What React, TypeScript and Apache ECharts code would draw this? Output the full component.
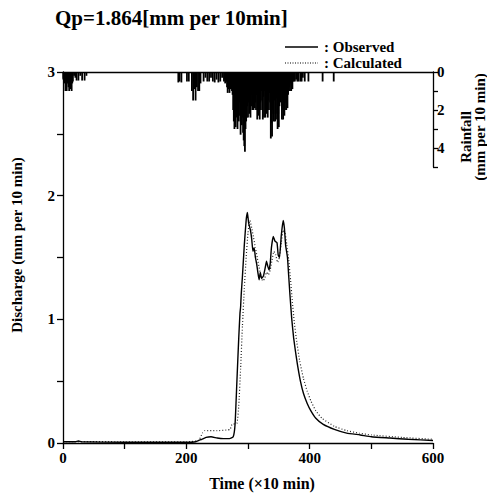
import React, { useEffect, useRef } from "react";
import * as echarts from "echarts";

const titleText = "Qp=1.864[mm per 10min]";
const xTicks = [0, 100, 200, 300, 400, 500, 600];
const yTicks = [0, 0.5, 1, 1.5, 2, 2.5, 3];
const rainTicks = [0, 1, 2, 3, 4, 5];
const legendNames = ["Observed", "Calculated"];

// Observed discharge [time step (x10 min), mm per 10 min]
const observed: [number, number][] = [
  [0, 0.01], [20, 0.01], [25, 0.016], [30, 0.01], [100, 0.006], [200, 0.006],
  [215, 0.01], [225, 0.03], [232, 0.045], [240, 0.05], [250, 0.04], [260, 0.035],
  [270, 0.035], [276, 0.05], [279, 0.15], [282, 0.5], [285, 0.85], [287, 1.05],
  [288, 1.1], [289, 1.2], [291, 1.35], [294, 1.6], [297, 1.8], [299, 1.864],
  [301, 1.78], [304, 1.72], [306, 1.65], [308, 1.55], [310, 1.58], [312, 1.5],
  [314, 1.45], [316, 1.38], [318, 1.32], [320, 1.38], [322, 1.33], [325, 1.35],
  [328, 1.42], [330, 1.47], [332, 1.43], [334, 1.4], [336, 1.45], [338, 1.58],
  [341, 1.67], [344, 1.63], [347, 1.62], [349, 1.52], [351, 1.5], [354, 1.68],
  [357, 1.8], [359, 1.74], [361, 1.6], [364, 1.5], [366, 1.35], [368, 1.2],
  [371, 1.0], [374, 0.85], [377, 0.74], [380, 0.64], [385, 0.5], [390, 0.4],
  [396, 0.32], [402, 0.26], [410, 0.2], [422, 0.15], [440, 0.11], [460, 0.08],
  [482, 0.065], [500, 0.05], [530, 0.04], [560, 0.03], [600, 0.02],
];

// Calculated discharge
const calculated: [number, number][] = [
  [0, 0.012], [100, 0.01], [200, 0.01], [220, 0.02], [226, 0.08], [230, 0.1],
  [250, 0.1], [265, 0.105], [271, 0.11], [274, 0.15], [282, 0.16], [285, 0.3],
  [288, 0.6], [291, 0.95], [294, 1.25], [297, 1.5], [300, 1.7], [303, 1.8],
  [306, 1.74], [309, 1.66], [312, 1.58], [315, 1.5], [318, 1.42], [321, 1.35],
  [324, 1.31], [327, 1.33], [330, 1.38], [333, 1.36], [336, 1.4], [339, 1.48],
  [342, 1.55], [345, 1.52], [348, 1.46], [351, 1.5], [354, 1.62], [357, 1.72],
  [360, 1.7], [363, 1.6], [366, 1.48], [369, 1.32], [372, 1.14], [375, 0.98],
  [379, 0.82], [384, 0.66], [390, 0.52], [396, 0.42], [402, 0.34], [410, 0.26],
  [420, 0.2], [440, 0.135], [460, 0.1], [480, 0.08], [500, 0.065], [550, 0.045],
  [600, 0.03],
];

// Rainfall [time step, mm per 10 min]
const rainfall: [number, number][] = [
  [0, 0.4], [1, 0.3], [2, 0.4], [3, 0.6], [4, 1.0], [5, 0.9], [6, 1.0], [7, 0.5], [8, 0.6],
  [9, 0.8], [10, 1.0], [11, 0.6], [12, 0.9], [13, 0.5], [14, 1.0], [15, 0.6], [16, 0.5],
  [18, 0.2], [20, 0.3], [22, 0.45], [25, 0.45], [28, 0.2], [31, 0.45],
  [35, 0.45], [38, 0.2],
  [187, 0.55], [189, 0.5], [192, 0.55], [201, 0.5], [204, 0.5],
  [209, 1.0], [211, 1.5], [213, 0.9], [215, 1.5], [217, 0.8], [219, 1.0], [221, 1.0],
  [223, 0.6], [228, 0.5], [231, 0.3], [234, 0.5], [237, 0.5], [240, 0.3], [243, 0.5],
  [246, 0.55], [249, 0.4], [252, 0.55], [255, 0.5], [258, 0.3],
  [261, 0.5], [262, 0.4], [263, 0.6], [264, 0.5], [265, 0.5], [266, 0.8], [267, 1.1],
  [268, 0.9], [269, 0.8], [270, 1.1], [271, 0.9], [272, 0.7], [273, 0.9],
  [274, 1.0], [275, 1.2], [276, 2.0], [277, 2.6], [278, 3.0], [279, 2.5], [280, 2.9],
  [281, 1.8], [282, 2.4], [283, 3.0], [284, 2.0], [285, 2.6], [286, 1.6], [287, 2.3],
  [288, 3.3], [289, 2.0], [290, 2.8], [291, 2.4], [292, 3.2], [293, 3.6], [294, 3.9],
  [295, 4.2], [296, 3.0], [297, 2.6], [298, 2.4], [299, 1.8], [300, 2.4], [301, 1.6],
  [302, 2.2], [303, 1.5], [304, 2.4], [305, 1.8], [306, 1.2], [307, 2.0], [308, 1.4],
  [309, 2.0], [310, 1.1], [311, 1.9], [312, 1.6], [313, 2.0], [314, 1.2], [315, 2.5],
  [316, 1.7], [317, 2.3], [318, 1.4], [319, 2.5], [320, 1.6], [321, 2.0], [322, 1.0],
  [323, 1.5], [324, 2.5], [325, 1.3], [326, 2.4], [327, 1.0], [328, 2.4], [329, 1.8],
  [330, 2.2], [331, 1.2], [332, 2.4], [333, 1.5], [334, 2.0], [335, 1.1], [336, 1.6],
  [337, 3.5], [338, 2.7], [339, 3.4], [340, 2.0], [341, 2.2], [342, 2.6], [343, 1.5],
  [344, 2.6], [345, 2.2], [346, 1.4], [347, 2.5], [348, 3.0], [349, 2.2], [350, 2.9],
  [351, 1.8], [352, 1.2], [353, 1.6], [354, 1.0], [355, 2.5], [356, 2.0], [357, 2.5],
  [358, 1.8], [359, 2.3], [360, 2.0], [361, 1.6], [362, 2.0], [363, 1.3], [364, 1.9],
  [365, 1.2], [366, 1.0], [367, 0.8], [368, 1.0], [369, 0.6], [370, 1.0], [371, 0.7],
  [372, 0.9], [373, 0.5], [374, 0.5], [376, 0.5], [378, 0.4], [380, 0.5], [382, 0.5],
  [385, 0.5], [387, 0.5], [389, 0.3], [392, 0.5], [398, 0.5], [421, 0.5], [439, 0.5],
];

const FONT = "'Liberation Serif', 'Times New Roman', serif";

export default function App() {
  const ref = useRef<HTMLDivElement>(null);
  useEffect(() => {
    if (!ref.current) return;
    const chart = echarts.init(ref.current, null, { renderer: "svg" });
    const labelStyle = {
      color: "#000",
      fontFamily: FONT,
      fontWeight: "bold" as const,
      fontSize: 15,
    };
    const axisLine = { show: true, onZero: false, lineStyle: { color: "#000", width: 1.3 } };
    const legendGraphics: any[] = [];
    legendNames.forEach((name, i) => {
      const y = 47 + i * 16;
      legendGraphics.push({
        type: "line",
        shape: { x1: 285, y1: y, x2: 318, y2: y },
        style: {
          stroke: "#000",
          lineWidth: i === 0 ? 1.4 : 1.1,
          lineDash: i === 0 ? null : [1, 1.5],
        },
      });
      legendGraphics.push({
        type: "text",
        x: 324,
        y,
        style: {
          text: ": " + name,
          font: `bold 15px ${FONT}`,
          fill: "#000",
          verticalAlign: "middle",
        },
      });
    });
    chart.setOption({
      animation: false,
      backgroundColor: "#fff",
      grid: [
        { left: 63, right: 54, top: 72, bottom: 52 },
        { left: 63, right: 54, top: 72, height: 95 },
      ],
      xAxis: [
        {
          gridIndex: 0,
          type: "value",
          min: xTicks[0],
          max: xTicks[xTicks.length - 1],
          interval: 100,
          axisLine,
          axisTick: { show: true, length: 6, lineStyle: { color: "#000", width: 1.3 } },
          axisLabel: {
            ...labelStyle,
            margin: 7,
            formatter: (v: number) => (v % 200 === 0 ? String(v) : ""),
          },
          splitLine: { show: false },
        },
        {
          gridIndex: 1,
          type: "value",
          position: "top",
          min: 0,
          max: 600,
          interval: 100,
          axisLine,
          axisTick: { show: false },
          axisLabel: { show: false },
          splitLine: { show: false },
        },
      ],
      yAxis: [
        {
          gridIndex: 0,
          type: "value",
          min: yTicks[0],
          max: yTicks[yTicks.length - 1],
          interval: 0.5,
          axisLine,
          axisTick: { show: true, length: 6, lineStyle: { color: "#000", width: 1.3 } },
          axisLabel: {
            ...labelStyle,
            margin: 8,
            formatter: (v: number) => (Number.isInteger(v) ? String(v) : ""),
          },
          splitLine: { show: false },
        },
        {
          gridIndex: 1,
          type: "value",
          position: "right",
          inverse: true,
          min: rainTicks[0],
          max: rainTicks[rainTicks.length - 1],
          interval: 1,
          axisLine,
          axisTick: { show: true, length: 5, lineStyle: { color: "#000", width: 1.3 } },
          axisLabel: {
            ...labelStyle,
            margin: 4,
            formatter: (v: number) => (v % 2 === 0 ? String(v) : ""),
          },
          splitLine: { show: false },
        },
      ],
      series: [
        {
          name: "Observed",
          type: "line",
          xAxisIndex: 0,
          yAxisIndex: 0,
          data: observed,
          showSymbol: false,
          symbol: "none",
          smooth: 0.15,
          lineStyle: { color: "#000", width: 1.4 },
          itemStyle: { color: "#000" },
          z: 3,
        },
        {
          name: "Calculated",
          type: "line",
          xAxisIndex: 0,
          yAxisIndex: 0,
          data: calculated,
          showSymbol: false,
          symbol: "none",
          smooth: 0.15,
          lineStyle: { color: "#222", width: 1.2, type: [1, 2] },
          itemStyle: { color: "#222" },
          z: 2,
        },
        {
          name: "Rainfall",
          type: "bar",
          xAxisIndex: 1,
          yAxisIndex: 1,
          data: rainfall,
          barWidth: 1.8,
          itemStyle: { color: "#000" },
        },
      ],
      graphic: [
        ...legendGraphics,
        {
          type: "text",
          left: 55,
          top: 7,
          style: {
            text: titleText,
            font: `bold 21px ${FONT}`,
            fill: "#000",
          },
        },
        {
          type: "text",
          x: 17,
          y: 245,
          rotation: Math.PI / 2,
          style: {
            text: "Discharge (mm per 10 min)",
            font: `bold 15px ${FONT}`,
            fill: "#000",
            align: "center",
            verticalAlign: "middle",
          },
        },
        {
          type: "text",
          x: 262,
          y: 483,
          style: {
            text: "Time (×10 min)",
            font: `bold 16px ${FONT}`,
            fill: "#000",
            align: "center",
            verticalAlign: "middle",
          },
        },
        {
          type: "text",
          x: 466,
          y: 137,
          rotation: Math.PI / 2,
          style: {
            text: "Rainfall",
            font: `bold 15px ${FONT}`,
            fill: "#000",
            align: "center",
            verticalAlign: "middle",
          },
        },
        {
          type: "text",
          x: 480,
          y: 127,
          rotation: Math.PI / 2,
          style: {
            text: "(mm per 10 min)",
            font: `bold 15px ${FONT}`,
            fill: "#000",
            align: "center",
            verticalAlign: "middle",
          },
        },
      ],
    });
    return () => chart.dispose();
  }, []);
  return (
    <div
      ref={ref}
      style={{ position: "absolute", left: 0, top: 0, width: 487, height: 495 }}
    />
  );
}
